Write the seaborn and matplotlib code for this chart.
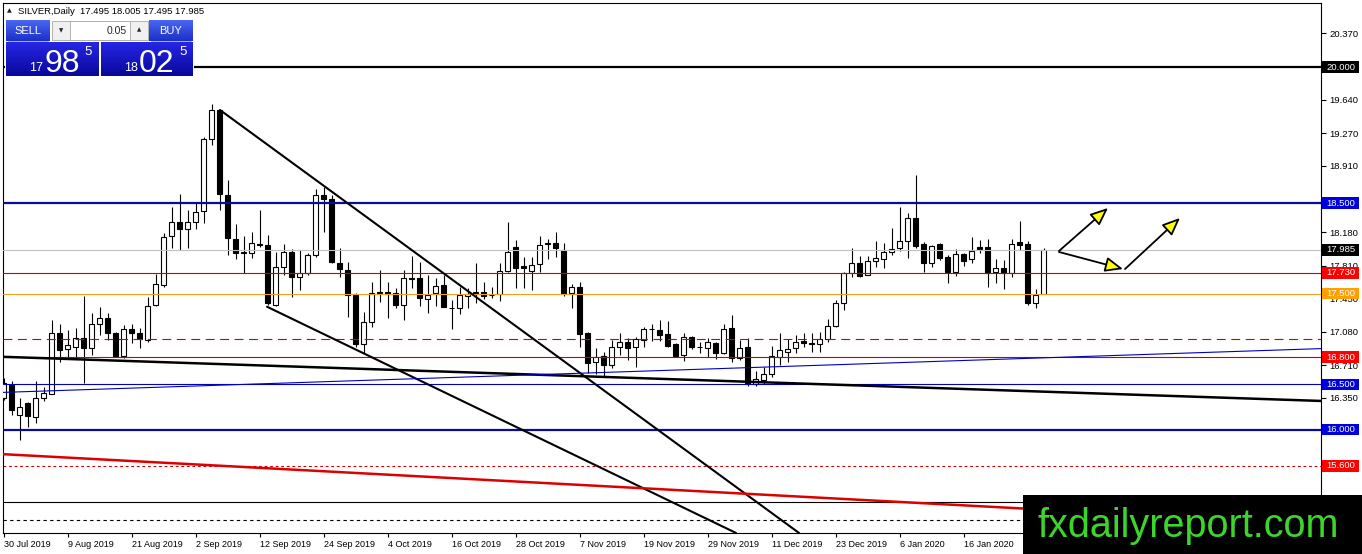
import numpy as np
import matplotlib
matplotlib.use("Agg")
import matplotlib.pyplot as plt
import seaborn as sns
from matplotlib.patches import Rectangle, FancyArrowPatch
from matplotlib.colors import LinearSegmentedColormap

# ---------------- data ----------------
opens = [16.35, 16.49, 16.16, 16.29, 16.14, 16.35, 16.39, 17.07, 16.89, 16.91,
         17.01, 16.90, 17.17, 17.23, 17.07, 16.81, 17.11, 17.07, 16.99, 17.38,
         17.60, 18.14, 18.29, 18.21, 18.29, 18.41, 19.21, 19.53, 18.59, 18.10,
         17.95, 17.95, 18.05, 18.04, 17.38, 17.79, 17.96, 17.68, 17.73, 17.93,
         18.59, 18.54, 17.84, 17.76, 17.49, 16.94, 17.19, 17.51, 17.52, 17.51,
         17.38, 17.67, 17.67, 17.44, 17.51, 17.60, 17.34, 17.34, 17.47, 17.51,
         17.52, 17.48, 17.50, 17.75, 18.01, 17.80, 17.75, 17.83, 18.05, 18.06,
         17.98, 17.51, 17.57, 17.07, 16.75, 16.81, 16.71, 16.91, 16.97, 16.91,
         16.99, 17.11, 17.10, 17.06, 16.95, 16.82, 17.02, 16.91, 16.90, 16.96,
         16.85, 17.12, 16.79, 16.91, 16.50, 16.55, 16.61, 16.80, 16.86, 16.90,
         16.98, 16.96, 16.95, 17.00, 17.14, 17.40, 17.73, 17.84, 17.71, 17.86,
         17.88, 17.96, 18.00, 18.08, 18.33, 18.05, 17.84, 18.05, 17.90, 17.74,
         17.94, 17.88, 18.01, 18.01, 17.74, 17.78, 17.73, 18.07, 18.05, 17.40,
         17.495]
highs = [16.57, 16.54, 16.35, 16.30, 16.54, 16.47, 17.21, 17.17, 17.10, 17.12,
         17.47, 17.29, 17.35, 17.29, 17.08, 17.15, 17.17, 17.12, 17.46, 17.72,
         18.17, 18.46, 18.60, 18.42, 18.51, 19.23, 19.59, 19.53, 18.75, 18.27,
         18.14, 18.18, 18.42, 18.15, 17.96, 18.05, 17.99, 17.98, 17.95, 18.65,
         18.68, 18.59, 18.00, 17.85, 17.51, 17.30, 17.63, 17.76, 17.63, 17.56,
         17.76, 17.92, 17.85, 17.71, 17.67, 17.71, 17.43, 17.57, 17.56, 17.84,
         17.63, 17.57, 17.84, 18.29, 18.09, 17.90, 17.90, 18.14, 18.10, 18.18,
         18.06, 17.61, 17.63, 17.08, 16.90, 16.86, 16.99, 17.07, 17.01, 17.02,
         17.13, 17.17, 17.21, 17.20, 16.96, 17.07, 17.03, 16.97, 17.01, 16.97,
         17.17, 17.26, 16.99, 17.01, 16.65, 16.69, 16.92, 17.07, 17.00, 17.04,
         17.07, 17.07, 17.08, 17.22, 17.43, 17.74, 18.00, 17.92, 17.92, 18.08,
         18.06, 18.22, 18.46, 18.39, 18.81, 18.07, 18.04, 18.06, 17.93, 17.99,
         17.95, 18.13, 18.09, 18.10, 17.88, 17.87, 18.10, 18.30, 18.08, 17.55,
         18.005]
lows = [16.33, 16.16, 15.89, 16.03, 16.07, 16.32, 16.39, 16.75, 16.80, 16.79,
        16.51, 16.82, 17.04, 16.99, 16.80, 16.79, 16.96, 16.90, 16.97, 17.36,
        17.57, 18.00, 17.98, 18.00, 18.21, 18.28, 19.14, 18.42, 17.93, 17.88,
        17.73, 17.89, 18.01, 17.38, 17.36, 17.71, 17.46, 17.54, 17.71, 17.90,
        18.18, 17.84, 17.68, 17.24, 16.91, 16.85, 17.13, 17.41, 17.23, 17.34,
        17.21, 17.56, 17.36, 17.29, 17.36, 17.35, 17.11, 17.28, 17.34, 17.40,
        17.44, 17.45, 17.42, 17.74, 17.56, 17.56, 17.54, 17.74, 17.88, 17.90,
        17.47, 17.34, 16.91, 16.63, 16.61, 16.59, 16.68, 16.82, 16.77, 16.69,
        16.91, 16.98, 16.98, 16.91, 16.80, 16.76, 16.89, 16.85, 16.80, 16.78,
        16.83, 16.75, 16.77, 16.48, 16.48, 16.50, 16.58, 16.71, 16.75, 16.85,
        16.91, 16.86, 16.86, 16.97, 17.13, 17.32, 17.68, 17.68, 17.71, 17.79,
        17.78, 17.93, 17.97, 17.89, 18.00, 17.74, 17.79, 17.87, 17.62, 17.69,
        17.81, 17.84, 17.95, 17.57, 17.62, 17.55, 17.68, 17.98, 17.38, 17.34,
        17.495]
closes = [16.52, 16.22, 16.25, 16.15, 16.35, 16.40, 17.07, 16.88, 16.93, 17.01,
          16.90, 17.17, 17.23, 17.07, 16.81, 17.11, 17.07, 17.00, 17.36, 17.61,
          18.13, 18.29, 18.21, 18.29, 18.40, 19.21, 19.53, 18.60, 18.11, 17.95,
          17.96, 18.06, 18.04, 17.40, 17.79, 17.96, 17.68, 17.73, 17.93, 18.59,
          18.54, 17.85, 17.77, 17.49, 16.94, 17.19, 17.51, 17.51, 17.50, 17.38,
          17.67, 17.665, 17.45, 17.49, 17.58, 17.35, 17.34, 17.49, 17.50, 17.52,
          17.47, 17.49, 17.75, 17.96, 17.78, 17.78, 17.82, 18.04, 18.06, 18.00,
          17.51, 17.57, 17.06, 16.74, 16.80, 16.71, 16.91, 16.97, 16.90, 17.00,
          17.11, 17.11, 17.04, 16.92, 16.81, 17.02, 16.91, 16.91, 16.97, 16.85,
          17.11, 16.79, 16.90, 16.51, 16.56, 16.61, 16.81, 16.88, 16.89, 16.97,
          16.96, 16.94, 17.00, 17.14, 17.40, 17.73, 17.84, 17.70, 17.86, 17.89,
          17.96, 17.99, 18.08, 18.33, 18.03, 17.84, 18.03, 17.89, 17.74, 17.94,
          17.86, 17.97, 17.99, 17.73, 17.78, 17.73, 18.05, 18.04, 17.40, 17.49,
          17.985]

date_labels = ["30 Jul 2019", "9 Aug 2019", "21 Aug 2019", "2 Sep 2019",
               "12 Sep 2019", "24 Sep 2019", "4 Oct 2019", "16 Oct 2019",
               "28 Oct 2019", "7 Nov 2019", "19 Nov 2019", "29 Nov 2019",
               "11 Dec 2019", "23 Dec 2019", "6 Jan 2020", "16 Jan 2020"]
bars_per_label = 8

price_ticks = [20.370, 19.640, 19.270, 18.910, 18.180, 17.810, 17.450,
               17.080, 16.710, 16.350, 15.250]

# horizontal levels: (price, colour, width, style)
hlines = [
    (20.000, "#000000", 1.6, "-"),
    (18.500, "#0A0AA0", 1.6, "-"),
    (17.985, "#C0C0C0", 0.8, "-"),
    (17.730, "#D00000", 0.8, "-"),
    (17.500, "#F0A020", 0.8, "-"),
    (16.995, "#D00000", 0.8, (0, (8, 5))),
    (16.800, "#D00000", 0.8, "-"),
    (16.500, "#0000C0", 0.8, "-"),
    (16.000, "#0A0AA0", 1.6, "-"),
    (15.600, "#D00000", 0.8, (0, (2.5, 2.5))),
    (15.200, "#000000", 0.8, "-"),
    (15.005, "#000000", 0.8, (0, (3, 3))),
]
# right-axis price boxes: (price, background)
price_boxes = [(20.000, "#000000"), (18.500, "#0000DD"), (17.985, "#000000"),
               (17.730, "#FF0000"), (17.500, "#FFA000"), (16.800, "#FF0000"),
               (16.500, "#0000DD"), (16.000, "#0000DD"), (15.600, "#FF0000")]

# trend lines: (x0 bar, y0, x1 bar, y1, colour, width)
trend_lines = [
    (27.06, 19.526, 99.44, 14.861, "#000000", 1.5),
    (32.94, 17.356, 91.56, 14.861, "#000000", 1.5),
    (-0.5, 16.805, 165.0, 16.316, "#000000", 1.8),
    (-0.5, 16.410, 165.0, 16.895, "#0000C0", 0.8),
    (-0.5, 15.732, 165.0, 14.954, "#DD0000", 1.8),
]
# forecast arrows: (x0 bar, y0, x1 bar, y1)
arrows = [(131.94, 17.971, 138.06, 18.445),
          (131.94, 17.960, 139.94, 17.772),
          (140.19, 17.772, 147.06, 18.335)]

# ---------------- figure ----------------
sns.set_style("white")
plt.rcParams["font.family"] = ["Liberation Sans", "DejaVu Sans"]

W, H = 1362, 554
fig = plt.figure(figsize=(W / 100, H / 100), dpi=100)
fig.patch.set_facecolor("white")
L, R, T, B = 2.5, 1321, 3, 533
ax = fig.add_axes([L / W, (H - B) / H, (R - L) / W, (B - T) / H])

n = len(opens)
idx = np.arange(n)
o = np.array(opens); h = np.array(highs); lo = np.array(lows); c = np.array(closes)
up = c >= o
bot = np.minimum(o, c)
hgt = np.maximum(np.abs(c - o), 0.004)

ax.vlines(idx, lo, h, color="black", lw=0.8, zorder=3)
ax.bar(idx[up], hgt[up], bottom=bot[up], width=0.625, facecolor="white",
       edgecolor="black", lw=0.8, zorder=4)
ax.bar(idx[~up], hgt[~up], bottom=bot[~up], width=0.625, facecolor="black",
       edgecolor="black", lw=0.8, zorder=4)

for p, col, lw, ls in hlines:
    ax.axhline(p, color=col, lw=lw, ls=ls, zorder=5)

for x0, y0, x1, y1, col, lw in trend_lines:
    sns.lineplot(x=[x0, x1], y=[y0, y1], ax=ax, color=col, lw=lw, zorder=6,
                 estimator=None, sort=False)

for x0, y0, x1, y1 in arrows:
    ax.add_patch(FancyArrowPatch((x0, y0), (x1, y1),
                                 arrowstyle="-|>,head_length=0.9,head_width=0.38",
                                 mutation_scale=12, fc="#FFFF00", ec="black",
                                 lw=1.3, shrinkA=0, shrinkB=0, zorder=8))

ax.set_xlim(-0.125, (R - 3.5) / 8)
ax.set_ylim(14.8605, 20.7059)

ax.set_xticks(np.arange(len(date_labels)) * bars_per_label)
ax.set_xticklabels(date_labels)
for t in ax.get_xticklabels():
    t.set_ha("left")
ax.yaxis.tick_right()
ax.set_yticks(price_ticks)
ax.set_yticklabels([f"{v:.3f}" for v in price_ticks])
ax.tick_params(axis="y", direction="out", length=3.5, width=0.8, pad=2.5,
               labelsize=6.8, colors="black", right=True, left=False)
ax.tick_params(axis="x", direction="out", length=3, width=0.8, pad=2,
               labelsize=6.5, colors="black", bottom=True)
for s in ax.spines.values():
    s.set_visible(True)
    s.set_color("black")
    s.set_linewidth(0.8)
ax.set_xlabel(""); ax.set_ylabel("")
ax.grid(False)

bw = 37 / (R - L)
for p, bg in price_boxes:
    ax.add_patch(Rectangle((1.0005, p - 0.064), bw, 0.128,
                           transform=ax.get_yaxis_transform(), facecolor=bg,
                           edgecolor="none", clip_on=False, zorder=10))
    ax.text(1.0 + 5 / (R - L), p, f"{p:.3f}", transform=ax.get_yaxis_transform(),
            color="white", fontsize=6.8, va="center", ha="left",
            clip_on=False, zorder=11)

# ---------------- overlay: header, trade panel, watermark ----------------
ov = fig.add_axes([0, 0, 1, 1], zorder=5)
ov.set_autoscale_on(False)
ov.set_xlim(0, W); ov.set_ylim(H, 0)
ov.axis("off")
ov.patch.set_alpha(0)


def grad_rect(x0, y0, w, h, ctop, cbot, z=2):
    cmap = LinearSegmentedColormap.from_list("g", [ctop, cbot])
    ov.imshow(np.linspace(0, 1, 64)[:, None], extent=(x0, x0 + w, y0 + h, y0),
              cmap=cmap, aspect="auto", zorder=z, interpolation="bilinear")


ov.text(7, 11, "\u25b2", fontsize=4.5, family="DejaVu Sans", va="center", color="#202020")
ov.text(18, 11, "SILVER,Daily  17.495 18.005 17.495 17.985", fontsize=6.8,
        va="center", ha="left", color="black")

ov.add_patch(Rectangle((5, 19), 189, 57, facecolor="white", edgecolor="none", zorder=1))
grad_rect(6, 20, 44, 21, "#4a66f2", "#1c30c8")
grad_rect(149, 20, 44, 21, "#4a66f2", "#1c30c8")
grad_rect(6, 42, 93, 34, "#2626e6", "#08089a")
grad_rect(101, 42, 92, 34, "#2626e6", "#08089a")
ov.add_patch(Rectangle((52, 21), 96, 19, facecolor="#f0f0f0", edgecolor="#a8a8a8",
                       lw=0.6, zorder=2))
ov.add_patch(Rectangle((70, 21), 60, 19, facecolor="white", edgecolor="#a8a8a8",
                       lw=0.6, zorder=3))
ov.text(61, 30.5, "\u25bc", fontsize=4, family="DejaVu Sans", ha="center", va="center", zorder=4)
ov.text(139, 30, "\u25b2", fontsize=4, family="DejaVu Sans", ha="center", va="center", zorder=4)
ov.text(127, 30.5, "0.05", fontsize=7.5, ha="right", va="center", zorder=4)
ov.text(28, 30.5, "SELL", fontsize=8, color="white", ha="center", va="center", zorder=4)
ov.text(171, 30.5, "BUY", fontsize=8, color="white", ha="center", va="center", zorder=4)
ov.plot([8, 48], [41, 41], color="#8fa0f0", lw=0.6, zorder=4)
ov.plot([151, 191], [41, 41], color="#8fa0f0", lw=0.6, zorder=4)

ov.text(43, 71, "17", fontsize=9, color="white", ha="right", va="baseline", zorder=4)
ov.text(62.5, 72, "98", fontsize=23, color="white", ha="center", va="baseline", zorder=4)
ov.text(84, 46, "5", fontsize=9.5, color="white", ha="left", va="top", zorder=4)
ov.text(138, 71, "18", fontsize=9, color="white", ha="right", va="baseline", zorder=4)
ov.text(157, 72, "02", fontsize=23, color="white", ha="center", va="baseline", zorder=4)
ov.text(179, 46, "5", fontsize=9.5, color="white", ha="left", va="top", zorder=4)

ov.add_patch(Rectangle((1023, 495), 339, 59, facecolor="black", edgecolor="none", zorder=2))
ov.text(1037, 537, "fxdailyreport.com", fontsize=28.5, color="#3CD52C",
        ha="left", va="baseline", family="Liberation Sans", zorder=3)

fig.savefig("out.png", dpi=100, facecolor="white")
